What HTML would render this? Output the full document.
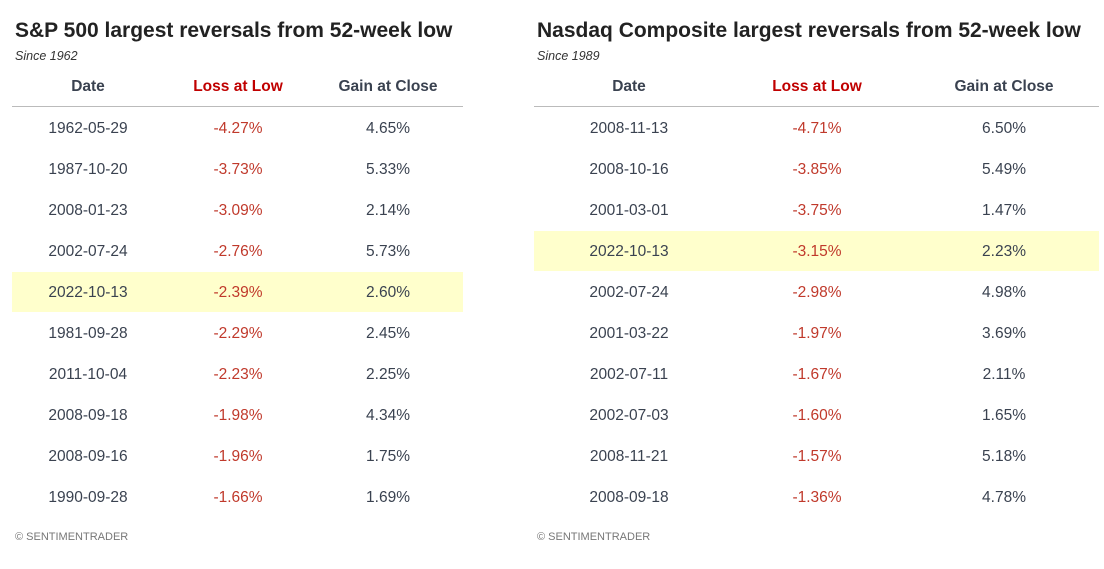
<!DOCTYPE html>
<html><head><meta charset="utf-8"><style>
body{margin:0;width:1104px;height:569px;background:#fff;font-family:"Liberation Sans",sans-serif;position:relative;overflow:hidden}
.a{position:absolute;white-space:nowrap}
.t{font-size:21px;font-weight:bold;color:#222;top:19px}
.s{font-size:12.5px;font-style:italic;color:#333;top:49px}
.h{font-size:15.5px;font-weight:bold;color:#3a4250;top:78px;transform:translateX(-50%)}
.c{font-size:15.5px;color:#3a4250;transform:translateX(-50%)}
.r{color:#c0392b}
.hr{color:#c00000}
.line{position:absolute;height:1px;background:#bbb;top:106px}
.hl{position:absolute;height:40px;background:#ffffcc}
.f{font-size:11px;color:#777;top:531px}
</style></head><body>
<div class="hl" style="left:12px;width:451px;top:272px"></div>
<div class="hl" style="left:534px;width:565px;top:231px"></div>
<div class="a t" style="left:15px">S&amp;P 500 largest reversals from 52-week low</div>
<div class="a s" style="left:15px">Since 1962</div>
<div class="a h" style="left:88px">Date</div>
<div class="a h hr" style="left:238px">Loss at Low</div>
<div class="a h" style="left:388px">Gain at Close</div>
<div class="line" style="left:12px;width:451px"></div>
<div class="a t" style="left:537px">Nasdaq Composite largest reversals from 52-week low</div>
<div class="a s" style="left:537px">Since 1989</div>
<div class="a h" style="left:629px">Date</div>
<div class="a h hr" style="left:817px">Loss at Low</div>
<div class="a h" style="left:1004px">Gain at Close</div>
<div class="line" style="left:534px;width:565px"></div>
<div class="a f" style="left:15px">© SENTIMENTRADER</div>
<div class="a f" style="left:537px">© SENTIMENTRADER</div>
<div id="rows"></div>
<script>
var L=[["1962-05-29","-4.27%","4.65%"],["1987-10-20","-3.73%","5.33%"],["2008-01-23","-3.09%","2.14%"],["2002-07-24","-2.76%","5.73%"],["2022-10-13","-2.39%","2.60%"],["1981-09-28","-2.29%","2.45%"],["2011-10-04","-2.23%","2.25%"],["2008-09-18","-1.98%","4.34%"],["2008-09-16","-1.96%","1.75%"],["1990-09-28","-1.66%","1.69%"]];
var R=[["2008-11-13","-4.71%","6.50%"],["2008-10-16","-3.85%","5.49%"],["2001-03-01","-3.75%","1.47%"],["2022-10-13","-3.15%","2.23%"],["2002-07-24","-2.98%","4.98%"],["2001-03-22","-1.97%","3.69%"],["2002-07-11","-1.67%","2.11%"],["2002-07-03","-1.60%","1.65%"],["2008-11-21","-1.57%","5.18%"],["2008-09-18","-1.36%","4.78%"]];
var h="";
function add(d,xs){d.forEach(function(r,i){var y=120+i*41;for(var j=0;j<3;j++)h+='<div class="a c'+(j==1?' r':'')+'" style="left:'+xs[j]+'px;top:'+y+'px">'+r[j]+'</div>';});}
add(L,[88,238,388]);add(R,[629,817,1004]);
document.getElementById("rows").innerHTML=h;
</script>
</body></html>
